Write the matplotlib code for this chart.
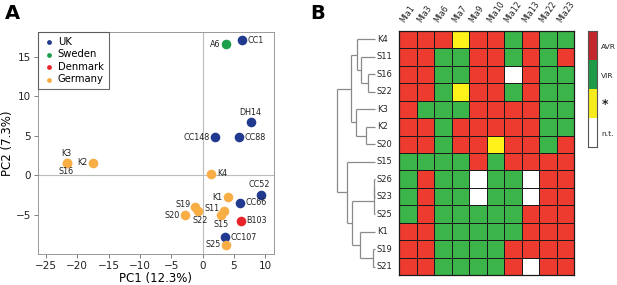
import numpy as np
import matplotlib
matplotlib.use("Agg")
import matplotlib.pyplot as plt
from matplotlib.colors import ListedColormap

# ---- panel A data (PCA) ----
countries = ["UK", "Sweden", "Denmark", "Germany"]
country_colors = {"UK": "#213a8f", "Sweden": "#1e9e4a", "Denmark": "#e8232a", "Germany": "#f8ae45"}

isolates = ["CC1", "DH14", "CC148", "CC88", "CC52", "CC66", "CC107",
            "A6", "B103",
            "K3", "S16", "K2", "K4", "K1", "S19", "S22", "S20", "S11", "S15", "S25"]
origin = ["UK"] * 7 + ["Sweden", "Denmark"] + ["Germany"] * 11
pc1 = [6.3, 7.8, 2.0, 5.8, 9.3, 6.0, 3.6,
       3.7, 6.1,
       -21.7, -21.7, -17.5, 1.4, 4.1, -1.2, -0.8, -2.8, 3.4, 2.9, 3.8]
pc2 = [17.1, 6.7, 4.8, 4.8, -2.5, -3.5, -7.9,
       16.6, -5.8,
       1.6, 1.6, 1.6, 0.2, -2.8, -4.1, -4.6, -5.1, -4.6, -5.1, -8.8]

# label placement (offset in points, alignment)
label_pos = {
    "CC1": (4, 0, "left", "center"), "DH14": (-1, 4, "center", "bottom"),
    "CC148": (-4, 0, "right", "center"), "CC88": (4, 0, "left", "center"),
    "CC52": (-1, 4, "center", "bottom"), "CC66": (4, 0, "left", "center"),
    "CC107": (4, 0, "left", "center"), "A6": (-4, 0, "right", "center"),
    "B103": (4, 0, "left", "center"), "K3": (0, 3, "center", "bottom"),
    "S16": (0, -3, "center", "top"), "K2": (-4, 0, "right", "center"),
    "K4": (4, 0, "left", "center"), "K1": (-4, 0, "right", "center"),
    "S19": (-3, 2, "right", "center"), "S22": (2, -3, "center", "top"),
    "S20": (-4, 0, "right", "center"), "S11": (-3, 2, "right", "center"),
    "S15": (0, -3, "center", "top"), "S25": (-4, 0, "right", "center"),
}

# ---- panel B data (virulence table) ----
genes = ["Mla1", "Mla3", "Mla6", "Mla7", "Mla9", "Mla10", "Mla12", "Mla13", "Mla22", "Mla23"]
strains = ["K4", "S11", "S16", "S22", "K3", "K2", "S20",
           "S15", "S26", "S23", "S25", "K1", "S19", "S21"]
# A = AVR, V = VIR, Y = *, N = n.t.
phenotypes = [
    "AAAYAAVAVV",
    "AAVVAAVAVA",
    "AAVVAANAVV",
    "AAVYAAVAVV",
    "AVVVAAAAVV",
    "AAVAAAAAVV",
    "AAVAAYAAVA",
    "VVVVAVAAAA",
    "VAVVNVVNAA",
    "VAVVNVVNAA",
    "VAVVVVVAAA",
    "AAVVVVVAAA",
    "AAVVVVAAAA",
    "AAVVVVANAA",
]
classes = ["AVR", "VIR", "*", "n.t."]
# dendrogram nodes: (left, right, merge height)
top_clade = (("K4", ("S11", ("S16", "S22", 6.7), 14), 17.7),
             ("K3", ("K2", "S20", 9), 19), 24.3)
bottom_clade = ("S15", ((("S26", "S23", 0.7), "S25", 0.7),
                        ("K1", ("S19", "S21", 2.3), 15), 23.3), 28.3)
tree = (top_clade, bottom_clade, 37.7)

code = {"A": 0, "V": 1, "Y": 2, "N": 3}
grid = np.array([[code[c] for c in row] for row in phenotypes])

W, H = 617, 285
fig = plt.figure(figsize=(W / 100, H / 100), dpi=100)

# ---------------- Panel A ----------------
ax = fig.add_axes([37.7 / W, 1 - 254 / H, (274 - 37.7) / W, (254 - 31.7) / H])
ax.axhline(0, color="#bbbbbb", lw=0.8, zorder=0)
ax.axvline(0, color="#bbbbbb", lw=0.8, zorder=0)
pc1 = np.array(pc1)
pc2 = np.array(pc2)
origin_arr = np.array(origin)
for c in countries:
    m = origin_arr == c
    ax.scatter(pc1[m], pc2[m], s=48, color=country_colors[c], lw=0, label=c, zorder=3)
for name, x, y in zip(isolates, pc1, pc2):
    dx, dy, ha, va = label_pos[name]
    ax.annotate(name, (x, y), xytext=(dx, dy), textcoords="offset points",
                ha=ha, va=va, fontsize=5.8, color="#222222")
ax.set_xlim(-26.3, 11.4)
ax.set_ylim(-10.0, 18.2)
ax.set_xticks([-25, -20, -15, -10, -5, 0, 5, 10])
ax.set_yticks([-5, 0, 5, 10, 15])
ax.set_xticklabels(["\u221225", "\u221220", "\u221215", "\u221210", "\u22125", "0", "5", "10"])
ax.set_yticklabels(["\u22125", "0", "5", "10", "15"])
ax.tick_params(labelsize=7.5, length=3, width=0.6, color="#666666", labelcolor="#222222", pad=2)
for s in ax.spines.values():
    s.set_color("#999999")
    s.set_linewidth(0.7)
ax.set_xlabel("PC1 (12.3%)", fontsize=8.5, labelpad=1)
ax.set_ylabel("PC2 (7.3%)", fontsize=8.5, labelpad=1)
leg = ax.legend(loc="upper left", borderaxespad=0, fancybox=False, fontsize=7.2,
                handletextpad=0.3, markerscale=0.5, borderpad=0.5, labelspacing=0.25,
                handlelength=1.2)
leg.get_frame().set_edgecolor("#444444")
leg.get_frame().set_linewidth(0.8)
fig.text(5 / W, 1 - 4 / H, "A", fontsize=14, fontweight="bold", va="top", ha="left")

# ---------------- Panel B ----------------
top_px, bot_px = 30.7, 275.3
hx0, hx1 = 399.3, 574.0
hm = fig.add_axes([hx0 / W, 1 - bot_px / H, (hx1 - hx0) / W, (bot_px - top_px) / H])
cell_cmap = ListedColormap(["#ee3b30", "#3bb44a", "#fff21a", "#ffffff"])
hm.pcolormesh(np.arange(len(genes) + 1), np.arange(len(strains) + 1), grid,
              cmap=cell_cmap, vmin=-0.5, vmax=3.5, edgecolors="#1a1a1a", linewidth=0.7)
hm.set_xlim(0, len(genes))
hm.set_ylim(len(strains), 0)
hm.set_xticks([])
hm.set_yticks([])
for s in hm.spines.values():
    s.set_color("#1a1a1a")
    s.set_linewidth(0.9)
for i, g in enumerate(genes):
    hm.text(i + 0.35, -0.35, g, rotation=55, rotation_mode="anchor", ha="left", va="bottom",
            fontsize=5.6, color="#222222")

# dendrogram
dg = fig.add_axes([336 / W, 1 - bot_px / H, (hx0 - 336) / W, (bot_px - top_px) / H])
dg.set_xlim(375 - 336, 375 - hx0)
dg.set_ylim(len(strains), 0)
dg.axis("off")
row_of = {s: i + 0.5 for i, s in enumerate(strains)}


def draw(node):
    if isinstance(node, str):
        return row_of[node], 0.0
    left, right, h = node
    yl, hl = draw(left)
    yr, hr = draw(right)
    kw = dict(color="#8a8a8a", lw=0.9, solid_capstyle="butt")
    dg.plot([hl, h], [yl, yl], **kw)
    dg.plot([hr, h], [yr, yr], **kw)
    dg.plot([h, h], [yl, yr], **kw)
    return (yl + yr) / 2, h


draw(tree)
for s in strains:
    dg.text(-2, row_of[s], s, ha="left", va="center", fontsize=6, color="#222222")

# legend colour bar
cb = fig.add_axes([588.3 / W, 1 - 146.7 / H, 9 / W, 116 / H])
bar_cmap = ListedColormap(["#c1272d", "#1f9a48", "#f7ec1b", "#ffffff"])
cb.pcolormesh([0, 1], np.arange(5), np.arange(4).reshape(-1, 1), cmap=bar_cmap, vmin=-0.5, vmax=3.5)
cb.set_ylim(4, 0)
cb.set_xlim(0, 1)
cb.set_xticks([])
cb.set_yticks([])
for s in cb.spines.values():
    s.set_color("#555555")
    s.set_linewidth(0.8)
for i, lab in enumerate(classes):
    fs = 9 if lab == "*" else 5.4
    cb.text(1.45, i + 0.55, lab, ha="left", va="center", fontsize=fs, color="#222222",
            fontweight="bold" if lab == "*" else "normal")
fig.text(310 / W, 1 - 4 / H, "B", fontsize=14, fontweight="bold", va="top", ha="left")

fig.savefig("out.png", dpi=100)
